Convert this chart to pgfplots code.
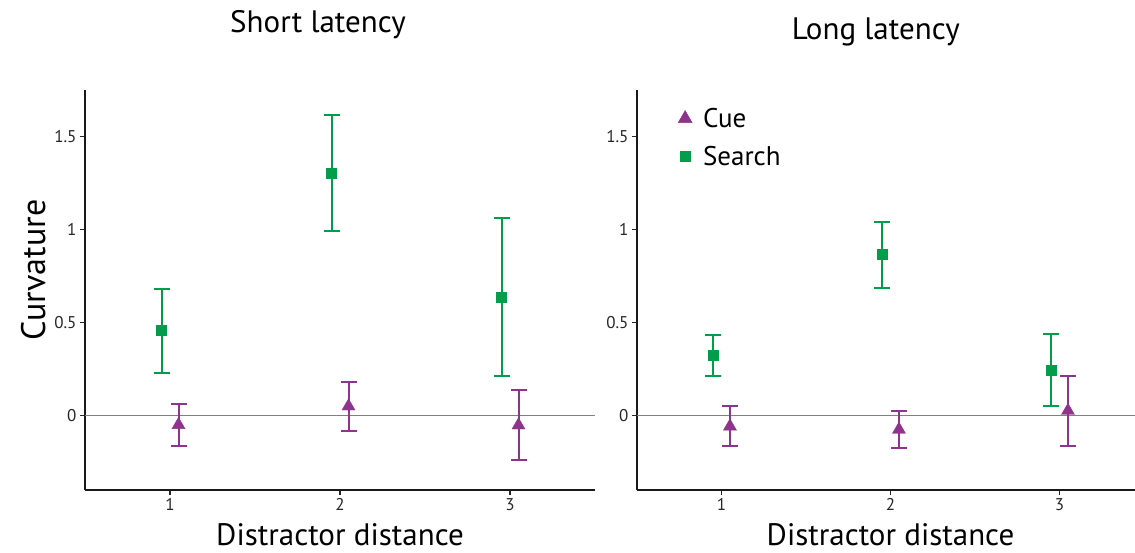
\documentclass[border=0pt]{standalone}
\usepackage{pgfplots}
\pgfplotsset{compat=1.18}
\usepackage{pgfplotstable}
\usepackage{fontspec}
\setmainfont{PT Sans}
\definecolor{sgreen}{RGB}{0,158,74}
\definecolor{cpurple}{RGB}{142,52,140}

\pgfplotstableread{
x y ep em
0.95 0.458 0.225 0.228
1.95 1.302 0.315 0.309
2.95 0.636 0.427 0.424
}\leftsearch
\pgfplotstableread{
x y ep em
1.05 -0.050 0.113 0.112
2.05 0.050 0.133 0.134
3.05 -0.052 0.187 0.187
}\leftcue
\pgfplotstableread{
x y ep em
0.95 0.322 0.109 0.108
1.95 0.866 0.176 0.178
2.95 0.243 0.194 0.193
}\rightsearch
\pgfplotstableread{
x y ep em
1.05 -0.058 0.107 0.107
2.05 -0.075 0.097 0.097
3.05 0.026 0.188 0.188
}\rightcue

\pgfplotsset{
 myax/.style={
  scale only axis, height=400pt,
  ymin=-0.4, ymax=1.75,
  xmin=0.5, xmax=3.5,
  axis x line*=bottom, axis y line*=left,
  axis line style={line width=2.2pt, -, black!90},
  xtick={1,2,3}, ytick={0,0.5,1,1.5},
  xticklabels={1,2,3}, yticklabels={0,0.5,1,1.5},
  tick style={black!85, line width=1.2pt},
  major tick length=5pt,
  tick align=outside,
  ticklabel style={font=\fontsize{17}{17}\selectfont, text=black!85},
  /pgf/number format/assume math mode=true,
  xlabel style={at={(axis description cs:0.5,-0.14)}, anchor=base, inner sep=1pt, font=\fontsize{31}{31}\selectfont},
  ylabel style={at={(axis description cs:-0.1,0.55)}, anchor=center, font=\fontsize{34}{34}\selectfont},
  clip=false,
 },
 searchst/.style={only marks, mark=square*, sgreen, mark size=5pt,
  error bars/.cd, y dir=both, y explicit,
  error bar style={line width=2pt, sgreen},
  error mark options={rotate=90, line width=2pt, mark size=8pt, sgreen}},
 cuest/.style={only marks, mark=triangle*, cpurple, mark size=7.5pt,
  error bars/.cd, y dir=both, y explicit,
  error bar style={line width=2pt, cpurple},
  error mark options={rotate=90, line width=2pt, mark size=8pt, cpurple}},
}

\begin{document}
\begin{tikzpicture}
\begin{axis}[myax, at={(85pt,63pt)}, anchor=south west, width=510pt,
  xlabel={Distractor distance}, ylabel={Curvature}]
\addplot[gray, line width=1pt, forget plot] coordinates {(0.5,0) (3.5,0)};
\addplot[searchst] table[x=x, y=y, y error plus=ep, y error minus=em] {\leftsearch};
\addplot[cuest] table[x=x, y=y, y error plus=ep, y error minus=em] {\leftcue};
\node[font=\fontsize{31}{31}\selectfont, anchor=center] at (axis description cs:0.457,1.1625) {Short latency};
\end{axis}
\begin{axis}[myax, at={(637pt,63pt)}, anchor=south west, width=507pt,
  xlabel={Distractor distance},
  legend style={at={(axis description cs:0.075,0.965)}, anchor=north west, draw=none, fill=none,
    font=\fontsize{27}{27}\selectfont, row sep=13pt, cells={anchor=west}},
  legend cell align=left]
\addlegendimage{only marks, mark=triangle*, cpurple, mark size=8pt}
\addlegendentry{\hspace{9pt}Cue}
\addlegendimage{only marks, mark=square*, sgreen, mark size=5pt}
\addlegendentry{\hspace{9pt}Search}
\addplot[gray, line width=1pt, forget plot] coordinates {(0.5,0) (3.5,0)};
\addplot[forget plot, searchst] table[x=x, y=y, y error plus=ep, y error minus=em] {\rightsearch};
\addplot[forget plot, cuest] table[x=x, y=y, y error plus=ep, y error minus=em] {\rightcue};
\node[font=\fontsize{31}{31}\selectfont, anchor=center] at (axis description cs:0.471,1.145) {Long latency};
\end{axis}
\pgfresetboundingbox
\useasboundingbox (0pt,0pt) rectangle (1135pt,553pt);
\end{tikzpicture}
\end{document}
